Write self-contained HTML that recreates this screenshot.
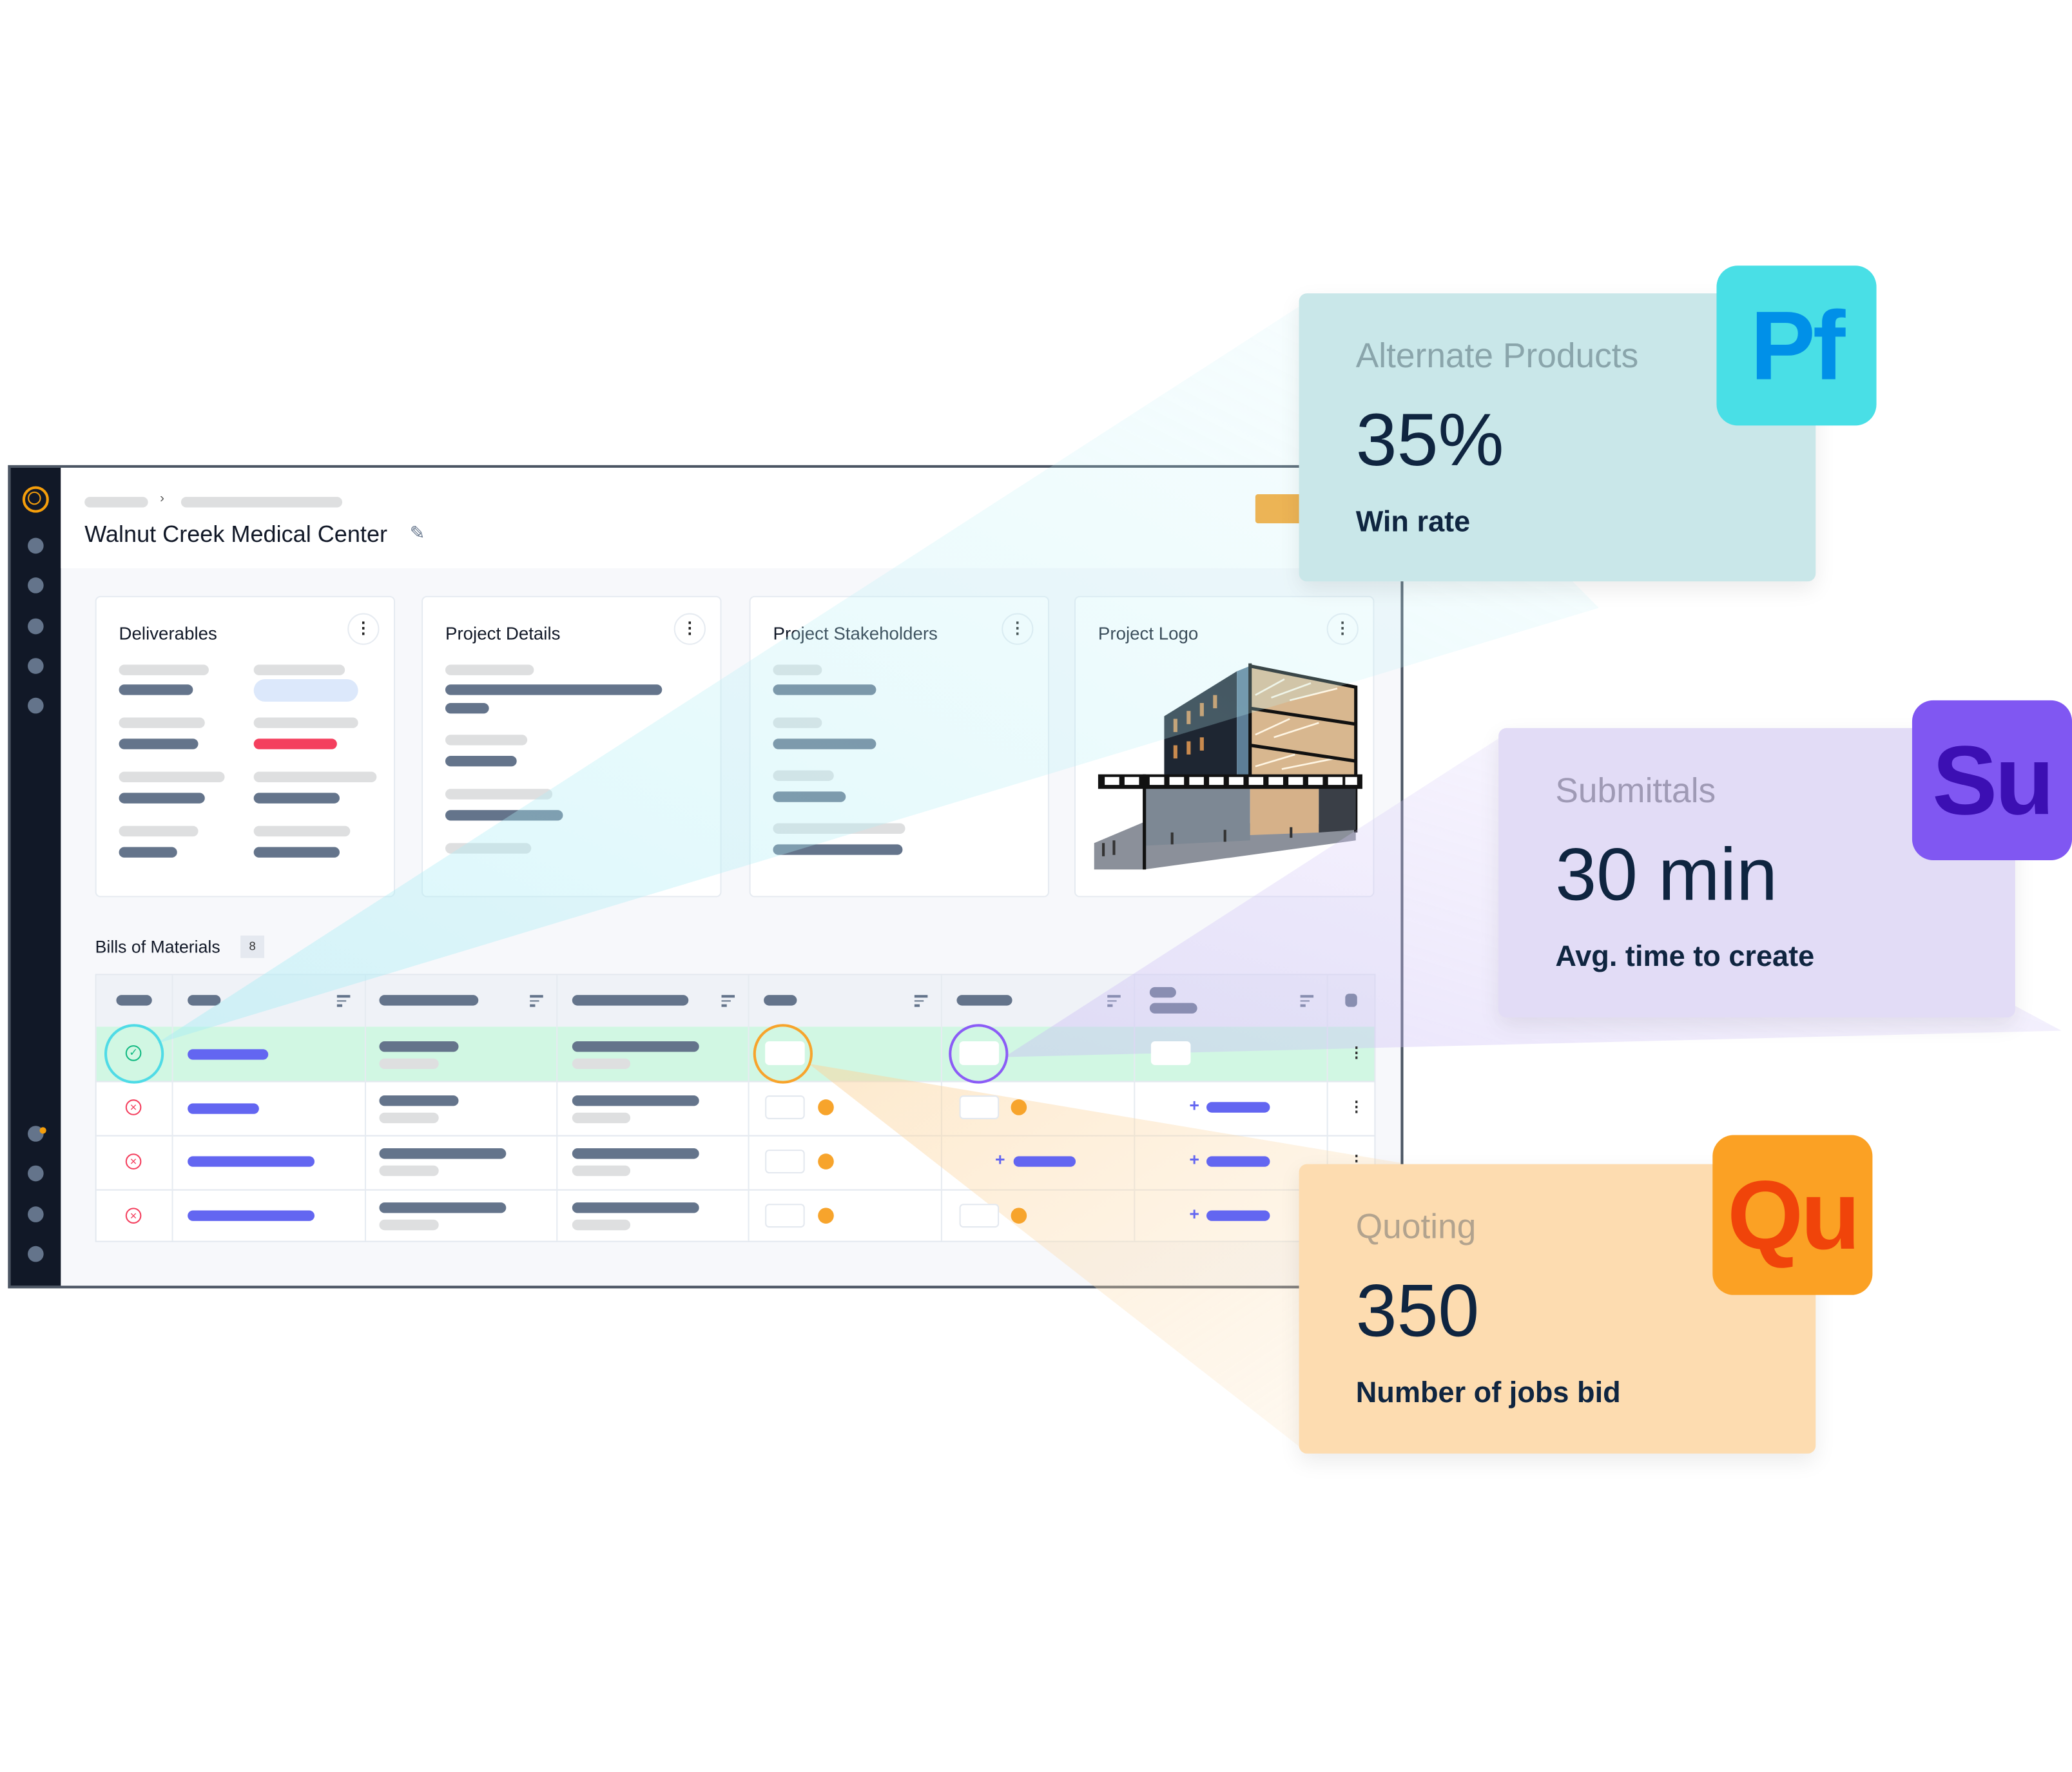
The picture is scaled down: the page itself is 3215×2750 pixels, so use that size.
<!DOCTYPE html>
<html><head><meta charset="utf-8">
<style>
html,body{margin:0;padding:0;background:#fff;}
body{width:3215px;height:2750px;overflow:hidden;position:relative;font-family:"Liberation Sans",sans-serif;}
#s{position:absolute;left:0;top:0;width:1568px;height:1341px;transform:scale(2.0504,2.0507);transform-origin:0 0;}
.a{position:absolute;}
.b{position:absolute;height:8px;border-radius:4px;}
.l{background:#dedfe0;}
.d{background:#64748b;}
.bl{background:#6366f1;}
.card{position:absolute;top:451px;width:227px;height:228px;background:#fff;border:1px solid #e6ebf1;border-radius:4px;box-sizing:border-box;}
.ct{position:absolute;left:17px;top:20px;font-size:13.5px;color:#111827;}
.keb{position:absolute;right:11px;top:12px;width:24px;height:24px;border:1px solid #e6ebf1;border-radius:50%;box-sizing:border-box;text-align:center;font-size:12px;line-height:20px;color:#222;font-weight:bold;}
.sd{position:absolute;left:21px;width:12px;height:12px;border-radius:50%;background:#64748b;}
.big{position:absolute;border-radius:6px;box-shadow:0 6px 16px rgba(0,0,0,0.08);}
.big .t1{position:absolute;left:43px;top:32px;font-size:26px;}
.big .t2{position:absolute;left:43px;top:78px;font-size:56px;color:#0f2540;}
.big .t3{position:absolute;left:43px;top:160px;font-size:22px;font-weight:bold;color:#0f2540;}
.badge{position:absolute;width:121px;height:121px;border-radius:16px;font-weight:bold;font-size:74px;text-align:center;line-height:121px;letter-spacing:-2px;}
.box{position:absolute;width:30px;height:18px;background:#fff;border:1px solid #e3e8ef;border-radius:3px;box-sizing:border-box;}
.dot{position:absolute;width:12px;height:12px;border-radius:50%;background:#f7a42c;}
.x{position:absolute;left:95px;width:12px;height:12px;border:1px solid #f43f5e;border-radius:50%;box-sizing:border-box;color:#f43f5e;font-size:9px;line-height:10px;text-align:center;}
.plus{position:absolute;color:#6366f1;font-weight:bold;font-size:13px;}
.fi{position:absolute;width:10px;}
.fi i{display:block;height:1.5px;background:#64748b;margin-bottom:2px;}
.vk{position:absolute;left:1021px;font-size:11px;font-weight:bold;color:#333;}
</style></head><body><div id="s">

<!-- App frame -->
<div class="a" style="left:6px;top:352px;width:1056px;height:623px;border:2px solid #4b5563;box-sizing:border-box;background:#f7f8fb;"></div>
<div class="a" style="left:8px;top:354px;width:38px;height:619px;background:#111827;"></div>
<div class="a" style="left:46px;top:354px;width:1014px;height:76px;background:#fff;"></div>
<div class="a" style="left:17px;top:368px;width:16px;height:16px;border:2px solid #f59e0b;border-radius:50%;"></div>
<div class="a" style="left:21px;top:372px;width:8px;height:8px;border:1.5px solid #f59e0b;border-radius:50%;"></div>
<div class="sd" style="top:407px"></div><div class="sd" style="top:437px"></div><div class="sd" style="top:468px"></div><div class="sd" style="top:498px"></div><div class="sd" style="top:528px"></div>
<div class="sd" style="top:852px"></div><div class="a" style="left:30px;top:853px;width:5px;height:5px;border-radius:50%;background:#f59e0b"></div>
<div class="sd" style="top:882px"></div><div class="sd" style="top:913px"></div><div class="sd" style="top:943px"></div>

<div class="b l" style="left:64px;top:376px;width:48px;"></div>
<div class="a" style="left:121px;top:372px;font-size:10px;color:#555;">›</div>
<div class="b l" style="left:137px;top:376px;width:122px;"></div>
<div class="a" style="left:64px;top:394px;font-size:17.6px;color:#111827;">Walnut Creek Medical Center</div>
<div class="a" style="left:310px;top:395px;font-size:14px;color:#64748b;">✎</div>
<div class="a" style="left:950px;top:374px;width:40px;height:22px;background:#f7a42c;border-radius:2px;"></div>

<!-- cards -->
<div class="card" style="left:72px"><div class="ct">Deliverables</div><div class="keb">⋮</div></div>
<div class="card" style="left:319px"><div class="ct">Project Details</div><div class="keb">⋮</div></div>
<div class="card" style="left:567px"><div class="ct">Project Stakeholders</div><div class="keb">⋮</div></div>
<div class="card" style="left:813px"><div class="ct">Project Logo</div><div class="keb">⋮</div></div>

<div class="b l" style="left:90px;top:503px;width:68px"></div><div class="b d" style="left:90px;top:518px;width:56px"></div>
<div class="b l" style="left:90px;top:543px;width:65px"></div><div class="b d" style="left:90px;top:559px;width:60px"></div>
<div class="b l" style="left:90px;top:584px;width:80px"></div><div class="b d" style="left:90px;top:600px;width:65px"></div>
<div class="b l" style="left:90px;top:625px;width:60px"></div><div class="b d" style="left:90px;top:641px;width:44px"></div>
<div class="b l" style="left:192px;top:503px;width:69px"></div><div class="a" style="left:192px;top:514px;width:79px;height:17px;border-radius:9px;background:#dce8fb"></div>
<div class="b l" style="left:192px;top:543px;width:79px"></div><div class="b" style="left:192px;top:559px;width:63px;background:#f43f5e"></div>
<div class="b l" style="left:192px;top:584px;width:93px"></div><div class="b d" style="left:192px;top:600px;width:65px"></div>
<div class="b l" style="left:192px;top:625px;width:73px"></div><div class="b d" style="left:192px;top:641px;width:65px"></div>

<div class="b l" style="left:337px;top:503px;width:67px"></div><div class="b d" style="left:337px;top:518px;width:164px"></div>
<div class="b d" style="left:337px;top:532px;width:33px"></div><div class="b l" style="left:337px;top:556px;width:62px"></div>
<div class="b d" style="left:337px;top:572px;width:54px"></div><div class="b l" style="left:337px;top:597px;width:81px"></div>
<div class="b d" style="left:337px;top:613px;width:89px"></div><div class="b l" style="left:337px;top:638px;width:65px"></div>

<div class="b l" style="left:585px;top:503px;width:37px"></div><div class="b d" style="left:585px;top:518px;width:78px"></div>
<div class="b l" style="left:585px;top:543px;width:37px"></div><div class="b d" style="left:585px;top:559px;width:78px"></div>
<div class="b l" style="left:585px;top:583px;width:46px"></div><div class="b d" style="left:585px;top:599px;width:55px"></div>
<div class="b l" style="left:585px;top:623px;width:100px"></div><div class="b d" style="left:585px;top:639px;width:98px"></div>

<!-- building -->
<svg class="a" style="left:826px;top:500px" width="205" height="160" viewBox="0 0 205 160">
<polygon points="2,158 2,138 40,122 200,124 200,136 40,158" fill="#8b909a"/>
<polygon points="55,86 55,42 110,8 110,92" fill="#1e2632"/>
<polygon points="110,8 120,4 120,94 110,92" fill="#5d7e96"/>
<polygon points="120,4 200,20 200,90 120,90" fill="#d8b78f"/>
<g stroke="#fff6e4" stroke-width="1.3"><line x1="124" y1="26" x2="146" y2="14"/><line x1="136" y1="28" x2="166" y2="17"/><line x1="150" y1="30" x2="186" y2="21"/><line x1="124" y1="56" x2="150" y2="44"/><line x1="138" y1="58" x2="172" y2="47"/><line x1="124" y1="80" x2="154" y2="71"/><line x1="144" y1="82" x2="184" y2="74"/></g>
<g stroke="#111" stroke-width="2.5" fill="none">
<polyline points="120,4 200,20 200,130"/><line x1="120" y1="2" x2="120" y2="96"/>
<line x1="120" y1="36" x2="200" y2="48"/><line x1="120" y1="64" x2="200" y2="76"/></g>
<g fill="#c98a4e"><rect x="62" y="44" width="3" height="10"/><rect x="72" y="38" width="3" height="10"/><rect x="82" y="32" width="3" height="10"/><rect x="92" y="26" width="3" height="10"/><rect x="62" y="64" width="3" height="10"/><rect x="82" y="58" width="3" height="10"/><rect x="72" y="61" width="3" height="10"/></g>
<polygon points="40,96 120,96 120,136 40,140" fill="#7d8894"/>
<polygon points="120,96 172,96 172,130 120,132" fill="#d6b189"/>
<polygon points="172,96 200,96 200,128 172,130" fill="#3a3f47"/>
<rect x="5" y="86" width="200" height="11" fill="#111"/>
<g fill="#fff"><rect x="10" y="88" width="11" height="6"/><rect x="25" y="88" width="11" height="6"/><rect x="44" y="88" width="11" height="6"/><rect x="59" y="88" width="11" height="6"/><rect x="74" y="88" width="11" height="6"/><rect x="89" y="88" width="11" height="6"/><rect x="104" y="88" width="11" height="6"/><rect x="119" y="88" width="11" height="6"/><rect x="134" y="88" width="11" height="6"/><rect x="149" y="88" width="11" height="6"/><rect x="164" y="88" width="11" height="6"/><rect x="179" y="88" width="11" height="6"/><rect x="192" y="88" width="9" height="6"/></g>
<line x1="40" y1="86" x2="40" y2="158" stroke="#111" stroke-width="2.5"/>
<g fill="#333"><rect x="8" y="138" width="2" height="10"/><rect x="16" y="136" width="2" height="11"/><rect x="60" y="130" width="2" height="9"/><rect x="100" y="128" width="2" height="9"/><rect x="150" y="126" width="2" height="8"/></g>
</svg>

<!-- Bills of materials -->
<div class="a" style="left:72px;top:709px;font-size:13px;color:#111827;">Bills of Materials</div>
<div class="a" style="left:182px;top:708px;width:18px;height:17px;background:#e5e9f0;font-size:9px;line-height:17px;text-align:center;color:#333;">8</div>

<div class="a" style="left:72px;top:737px;width:969px;height:203px;background:#fff;border:1px solid #e3e8ef;box-sizing:border-box;"></div>
<div class="a" style="left:73px;top:738px;width:967px;height:39px;background:#eff2f7;"></div>
<div class="a" style="left:73px;top:777px;width:967px;height:41px;background:#d1f7e3;"></div>
<div class="a" style="left:73px;top:859px;width:967px;height:1px;background:#e3e8ef;"></div>
<div class="a" style="left:73px;top:900px;width:967px;height:1px;background:#e3e8ef;"></div>
<div class="a" style="left:73px;top:818px;width:967px;height:1px;background:#e3e8ef;"></div>
<div class="a" style="left:130px;top:738px;width:1px;height:201px;background:#e6ebf1"></div>
<div class="a" style="left:276px;top:738px;width:1px;height:201px;background:#e6ebf1"></div>
<div class="a" style="left:421px;top:738px;width:1px;height:201px;background:#e6ebf1"></div>
<div class="a" style="left:566px;top:738px;width:1px;height:201px;background:#e6ebf1"></div>
<div class="a" style="left:712px;top:738px;width:1px;height:201px;background:#e6ebf1"></div>
<div class="a" style="left:858px;top:738px;width:1px;height:201px;background:#e6ebf1"></div>
<div class="a" style="left:1004px;top:738px;width:1px;height:201px;background:#e6ebf1"></div>

<div class="b d" style="left:88px;top:753px;width:27px"></div>
<div class="b d" style="left:142px;top:753px;width:25px"></div>
<div class="b d" style="left:287px;top:753px;width:75px"></div>
<div class="b d" style="left:433px;top:753px;width:88px"></div>
<div class="b d" style="left:578px;top:753px;width:25px"></div>
<div class="b d" style="left:724px;top:753px;width:42px"></div>
<div class="b d" style="left:870px;top:747px;width:20px"></div>
<div class="b d" style="left:870px;top:759px;width:36px"></div>
<div class="b d" style="left:1018px;top:752px;width:9px;height:10px;border-radius:3px"></div>
<div class="fi" style="left:255px;top:753px"><i></i><i style="width:7px"></i><i style="width:4px"></i></div>
<div class="fi" style="left:401px;top:753px"><i></i><i style="width:7px"></i><i style="width:4px"></i></div>
<div class="fi" style="left:546px;top:753px"><i></i><i style="width:7px"></i><i style="width:4px"></i></div>
<div class="fi" style="left:692px;top:753px"><i></i><i style="width:7px"></i><i style="width:4px"></i></div>
<div class="fi" style="left:838px;top:753px"><i></i><i style="width:7px"></i><i style="width:4px"></i></div>
<div class="fi" style="left:984px;top:753px"><i></i><i style="width:7px"></i><i style="width:4px"></i></div>

<!-- beams -->
<svg class="a" style="left:0;top:0" width="1568" height="1341">
<defs>
<linearGradient id="gc" x1="0" y1="1" x2="1" y2="0"><stop offset="0" stop-color="#a5ecf5" stop-opacity="0.45"/><stop offset="1" stop-color="#c8f3f8" stop-opacity="0.12"/></linearGradient>
<linearGradient id="gp" x1="0" y1="1" x2="1" y2="0"><stop offset="0" stop-color="#c7b8f5" stop-opacity="0.4"/><stop offset="1" stop-color="#ddd3fa" stop-opacity="0.18"/></linearGradient>
<linearGradient id="go" x1="0" y1="0" x2="1" y2="1"><stop offset="0" stop-color="#fbd39a" stop-opacity="0.5"/><stop offset="1" stop-color="#fde4c0" stop-opacity="0.2"/></linearGradient>
</defs>
<polygon points="118,790 983,232 1210,460" fill="url(#gc)"/>
<polygon points="760,800 1140,555 1560,780" fill="url(#gp)"/>
<polygon points="612,805 1060,880 990,1100" fill="url(#go)"/>
</svg>

<!-- row cells -->
<div class="a" style="left:79px;top:775px;width:45px;height:45px;border:2.5px solid #4fdbe6;border-radius:50%;box-sizing:border-box;"></div>
<div class="a" style="left:95px;top:791px;width:12px;height:12px;border:1px solid #10b981;border-radius:50%;box-sizing:border-box;color:#10b981;font-size:8px;line-height:10px;text-align:center;">✓</div>
<div class="x" style="top:832px">×</div><div class="x" style="top:873px">×</div><div class="x" style="top:914px">×</div>

<div class="b bl" style="left:142px;top:794px;width:61px"></div>
<div class="b bl" style="left:142px;top:835px;width:54px"></div>
<div class="b bl" style="left:142px;top:875px;width:96px"></div>
<div class="b bl" style="left:142px;top:916px;width:96px"></div>

<div class="b d" style="left:287px;top:788px;width:60px"></div><div class="b l" style="left:287px;top:801px;width:45px"></div>
<div class="b d" style="left:287px;top:829px;width:60px"></div><div class="b l" style="left:287px;top:842px;width:45px"></div>
<div class="b d" style="left:287px;top:869px;width:96px"></div><div class="b l" style="left:287px;top:882px;width:45px"></div>
<div class="b d" style="left:287px;top:910px;width:96px"></div><div class="b l" style="left:287px;top:923px;width:45px"></div>
<div class="b d" style="left:433px;top:788px;width:96px"></div><div class="b l" style="left:433px;top:801px;width:44px"></div>
<div class="b d" style="left:433px;top:829px;width:96px"></div><div class="b l" style="left:433px;top:842px;width:44px"></div>
<div class="b d" style="left:433px;top:869px;width:96px"></div><div class="b l" style="left:433px;top:882px;width:44px"></div>
<div class="b d" style="left:433px;top:910px;width:96px"></div><div class="b l" style="left:433px;top:923px;width:44px"></div>

<div class="box" style="left:579px;top:788px;border:none"></div>
<div class="a" style="left:570px;top:775px;width:45px;height:45px;border:2.5px solid #f7a42c;border-radius:50%;box-sizing:border-box;"></div>
<div class="box" style="left:579px;top:829px"></div><div class="dot" style="left:619px;top:832px"></div>
<div class="box" style="left:579px;top:870px"></div><div class="dot" style="left:619px;top:873px"></div>
<div class="box" style="left:579px;top:911px"></div><div class="dot" style="left:619px;top:914px"></div>

<div class="box" style="left:726px;top:788px;border:none"></div>
<div class="a" style="left:718px;top:775px;width:45px;height:45px;border:2.5px solid #8b5cf6;border-radius:50%;box-sizing:border-box;"></div>
<div class="box" style="left:726px;top:829px"></div><div class="dot" style="left:765px;top:832px"></div>
<div class="plus" style="left:753px;top:870px">+</div><div class="b bl" style="left:767px;top:875px;width:47px"></div>
<div class="box" style="left:726px;top:911px"></div><div class="dot" style="left:765px;top:914px"></div>

<div class="box" style="left:871px;top:788px;border:none"></div>
<div class="plus" style="left:900px;top:829px">+</div><div class="b bl" style="left:913px;top:834px;width:48px"></div>
<div class="plus" style="left:900px;top:870px">+</div><div class="b bl" style="left:913px;top:875px;width:48px"></div>
<div class="plus" style="left:900px;top:911px">+</div><div class="b bl" style="left:913px;top:916px;width:48px"></div>
<div class="vk" style="top:790px">⋮</div><div class="vk" style="top:831px">⋮</div><div class="vk" style="top:872px">⋮</div>

<!-- big cards -->
<div class="big" style="left:983px;top:222px;width:391px;height:218px;background:#c9e7e9;">
<div class="t1" style="color:#8aa5ab">Alternate Products</div><div class="t2">35%</div><div class="t3">Win rate</div></div>
<div class="badge" style="left:1299px;top:201px;background:#49dfe6;color:#0090e8">Pf</div>

<div class="big" style="left:1134px;top:551px;width:391px;height:219px;background:#e2dcf6;">
<div class="t1" style="color:#9f9ab5">Submittals</div><div class="t2">30 min</div><div class="t3">Avg. time to create</div></div>
<div class="badge" style="left:1447px;top:530px;background:#8057f2;color:#3c0fb3">Su</div>

<div class="big" style="left:983px;top:881px;width:391px;height:219px;background:#fddcb0;">
<div class="t1" style="color:#b2a38e">Quoting</div><div class="t2">350</div><div class="t3">Number of jobs bid</div></div>
<div class="badge" style="left:1296px;top:859px;background:#fba124;color:#f0440a">Qu</div>

</div></body></html>
